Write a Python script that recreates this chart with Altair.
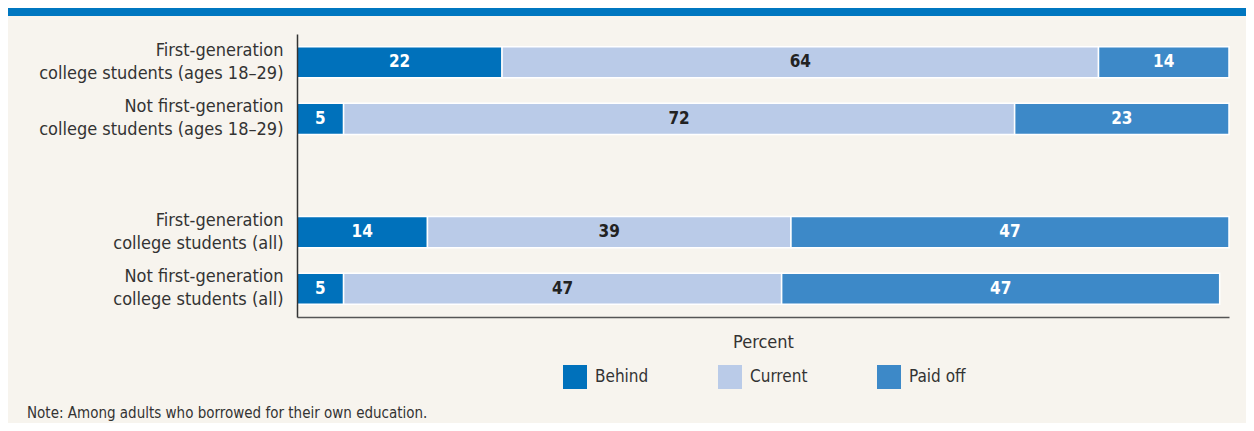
import altair as alt
import pandas as pd

categories = [
    "First-generation|college students (ages 18–29)",
    "Not first-generation|college students (ages 18–29)",
    "First-generation|college students (all)",
    "Not first-generation|college students (all)",
]
spacer = "spacer"
statuses = ["Behind", "Current", "Paid off"]
behind = [22, 5, 14, 5]
current = [64, 72, 39, 47]
paid_off = [14, 23, 47, 47]
colors = ["#0071BB", "#BACBE8", "#3D89C8"]
note = "Note: Among adults who borrowed for their own education."

rows = []
for i, c in enumerate(categories):
    for j, (s, vals) in enumerate(zip(statuses, [behind, current, paid_off])):
        rows.append({"cat": c, "status": s, "order": j, "value": vals[i]})
df = pd.DataFrame(rows)

domain = categories[:2] + [spacer] + categories[2:]
FONT = "Liberation Sans Narrow, DejaVu Sans Condensed, Roboto, sans-serif"

base = alt.Chart(df).transform_stack(
    stack="value", as_=["x0", "x1"], groupby=["cat"], sort=[alt.SortField("order")]
).transform_calculate(mid="(datum.x0 + datum.x1) / 2")

yenc = alt.Y(
    "cat:N",
    scale=alt.Scale(domain=domain, paddingInner=0.45, paddingOuter=0.225),
    axis=alt.Axis(
        title=None,
        ticks=False,
        domain=True,
        domainColor="#333333",
        domainWidth=1.5,
        labelExpr="datum.value == 'spacer' ? '' : split(datum.value, '|')",
        labelFont=FONT,
        labelFontSize=18,
        labelLineHeight=23,
        labelColor="#333333",
        labelPadding=14,
        labelLimit=400,
        labelOffset=-11.5,
        zindex=1,
    ),
)

bars = base.mark_bar(stroke="white", strokeWidth=1.5).encode(
    x=alt.X(
        "x0:Q",
        scale=alt.Scale(domain=[0, 100]),
        axis=alt.Axis(
            labels=False,
            ticks=False,
            grid=False,
            domain=True,
            domainColor="#555555",
            domainWidth=1.5,
            title="Percent",
            titleFont=FONT,
            titleFontSize=18,
            titleFontWeight="normal",
            titleColor="#333333",
            titlePadding=16,
            zindex=1,
        ),
    ),
    x2="x1:Q",
    y=yenc,
    color=alt.Color(
        "status:N",
        scale=alt.Scale(domain=statuses, range=colors),
        legend=alt.Legend(
            title=None,
            orient="none",
            legendX=266,
            legendY=331,
            direction="horizontal",
            symbolType="square",
            symbolSize=576,
            symbolStrokeWidth=0,
            symbolOpacity=1,
            labelFont=FONT,
            labelFontSize=17,
            labelColor="#333333",
            labelOffset=8,
            columnPadding=69,
            padding=0,
        ),
    ),
)

labels = base.mark_text(font=FONT, fontSize=17, fontWeight="bold").encode(
    x="mid:Q",
    y=alt.Y("cat:N", scale=alt.Scale(domain=domain)),
    text="value:Q",
    color=alt.condition(alt.datum.status == "Current", alt.value("#222222"), alt.value("white")),
)

one = pd.DataFrame({"a": [0]})
band = alt.Chart(one).mark_rect(color="#0077C0").encode(
    x=alt.value(-289), x2=alt.value(949), y=alt.value(-26), y2=alt.value(-18)
)
note_text = alt.Chart(one).mark_text(
    font=FONT, fontSize=15, color="#333333", align="left", baseline="alphabetic"
).encode(x=alt.value(-270), y=alt.value(384), text=alt.value(note))

chart = alt.layer(band, bars, labels, note_text).properties(
    width=932,
    height=283,
    autosize=alt.AutoSizeParams(type="none"),
    padding={"left": 289, "top": 26, "right": 17, "bottom": 106},
    background="#F7F4EE",
).configure_view(stroke=None)

chart.save("out.html", embed_options={"renderer": "svg", "actions": False})
